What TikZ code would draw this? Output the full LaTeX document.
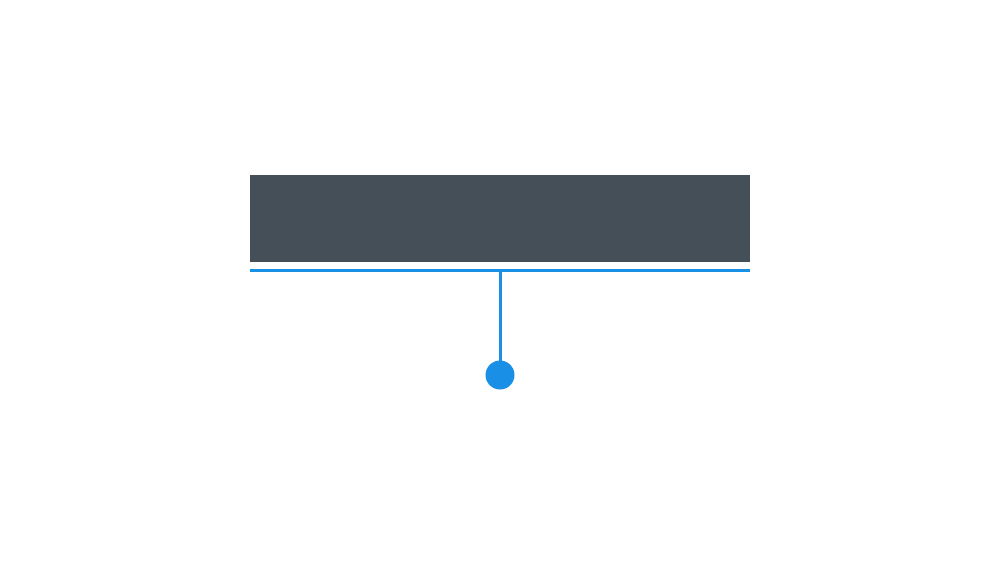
\documentclass[tikz,border=0pt]{standalone}
\definecolor{barDark}{HTML}{454F58}
\definecolor{lineBlue}{HTML}{1A8FE6}
\tikzset{
  barbox/.style={fill=barDark, draw=none, inner sep=0pt},
  rule/.style={draw=lineBlue, line width=1.5pt},
  stem/.style={draw=lineBlue, line width=1.5pt},
  dot/.style={circle, fill=lineBlue, draw=none, minimum size=14.5pt, inner sep=0pt}
}
\begin{document}
\begin{tikzpicture}[x=0.5pt,y=-0.5pt]
  \useasboundingbox (0,0) rectangle (1000,562);
  \fill[white] (0,0) rectangle (1000,562);
  \node[barbox, minimum width=250pt, minimum height=43.5pt] (bar) at (500,218.5) {};
  \coordinate (ruleL) at (250,270);
  \coordinate (ruleR) at (750,270);
  \coordinate (ruleM) at (500,270);
  \draw[rule] (ruleL) -- (ruleR);
  \node[dot] (end) at (500,375) {};
  \draw[stem] (ruleM) -- (end.center);
\end{tikzpicture}
\end{document}
